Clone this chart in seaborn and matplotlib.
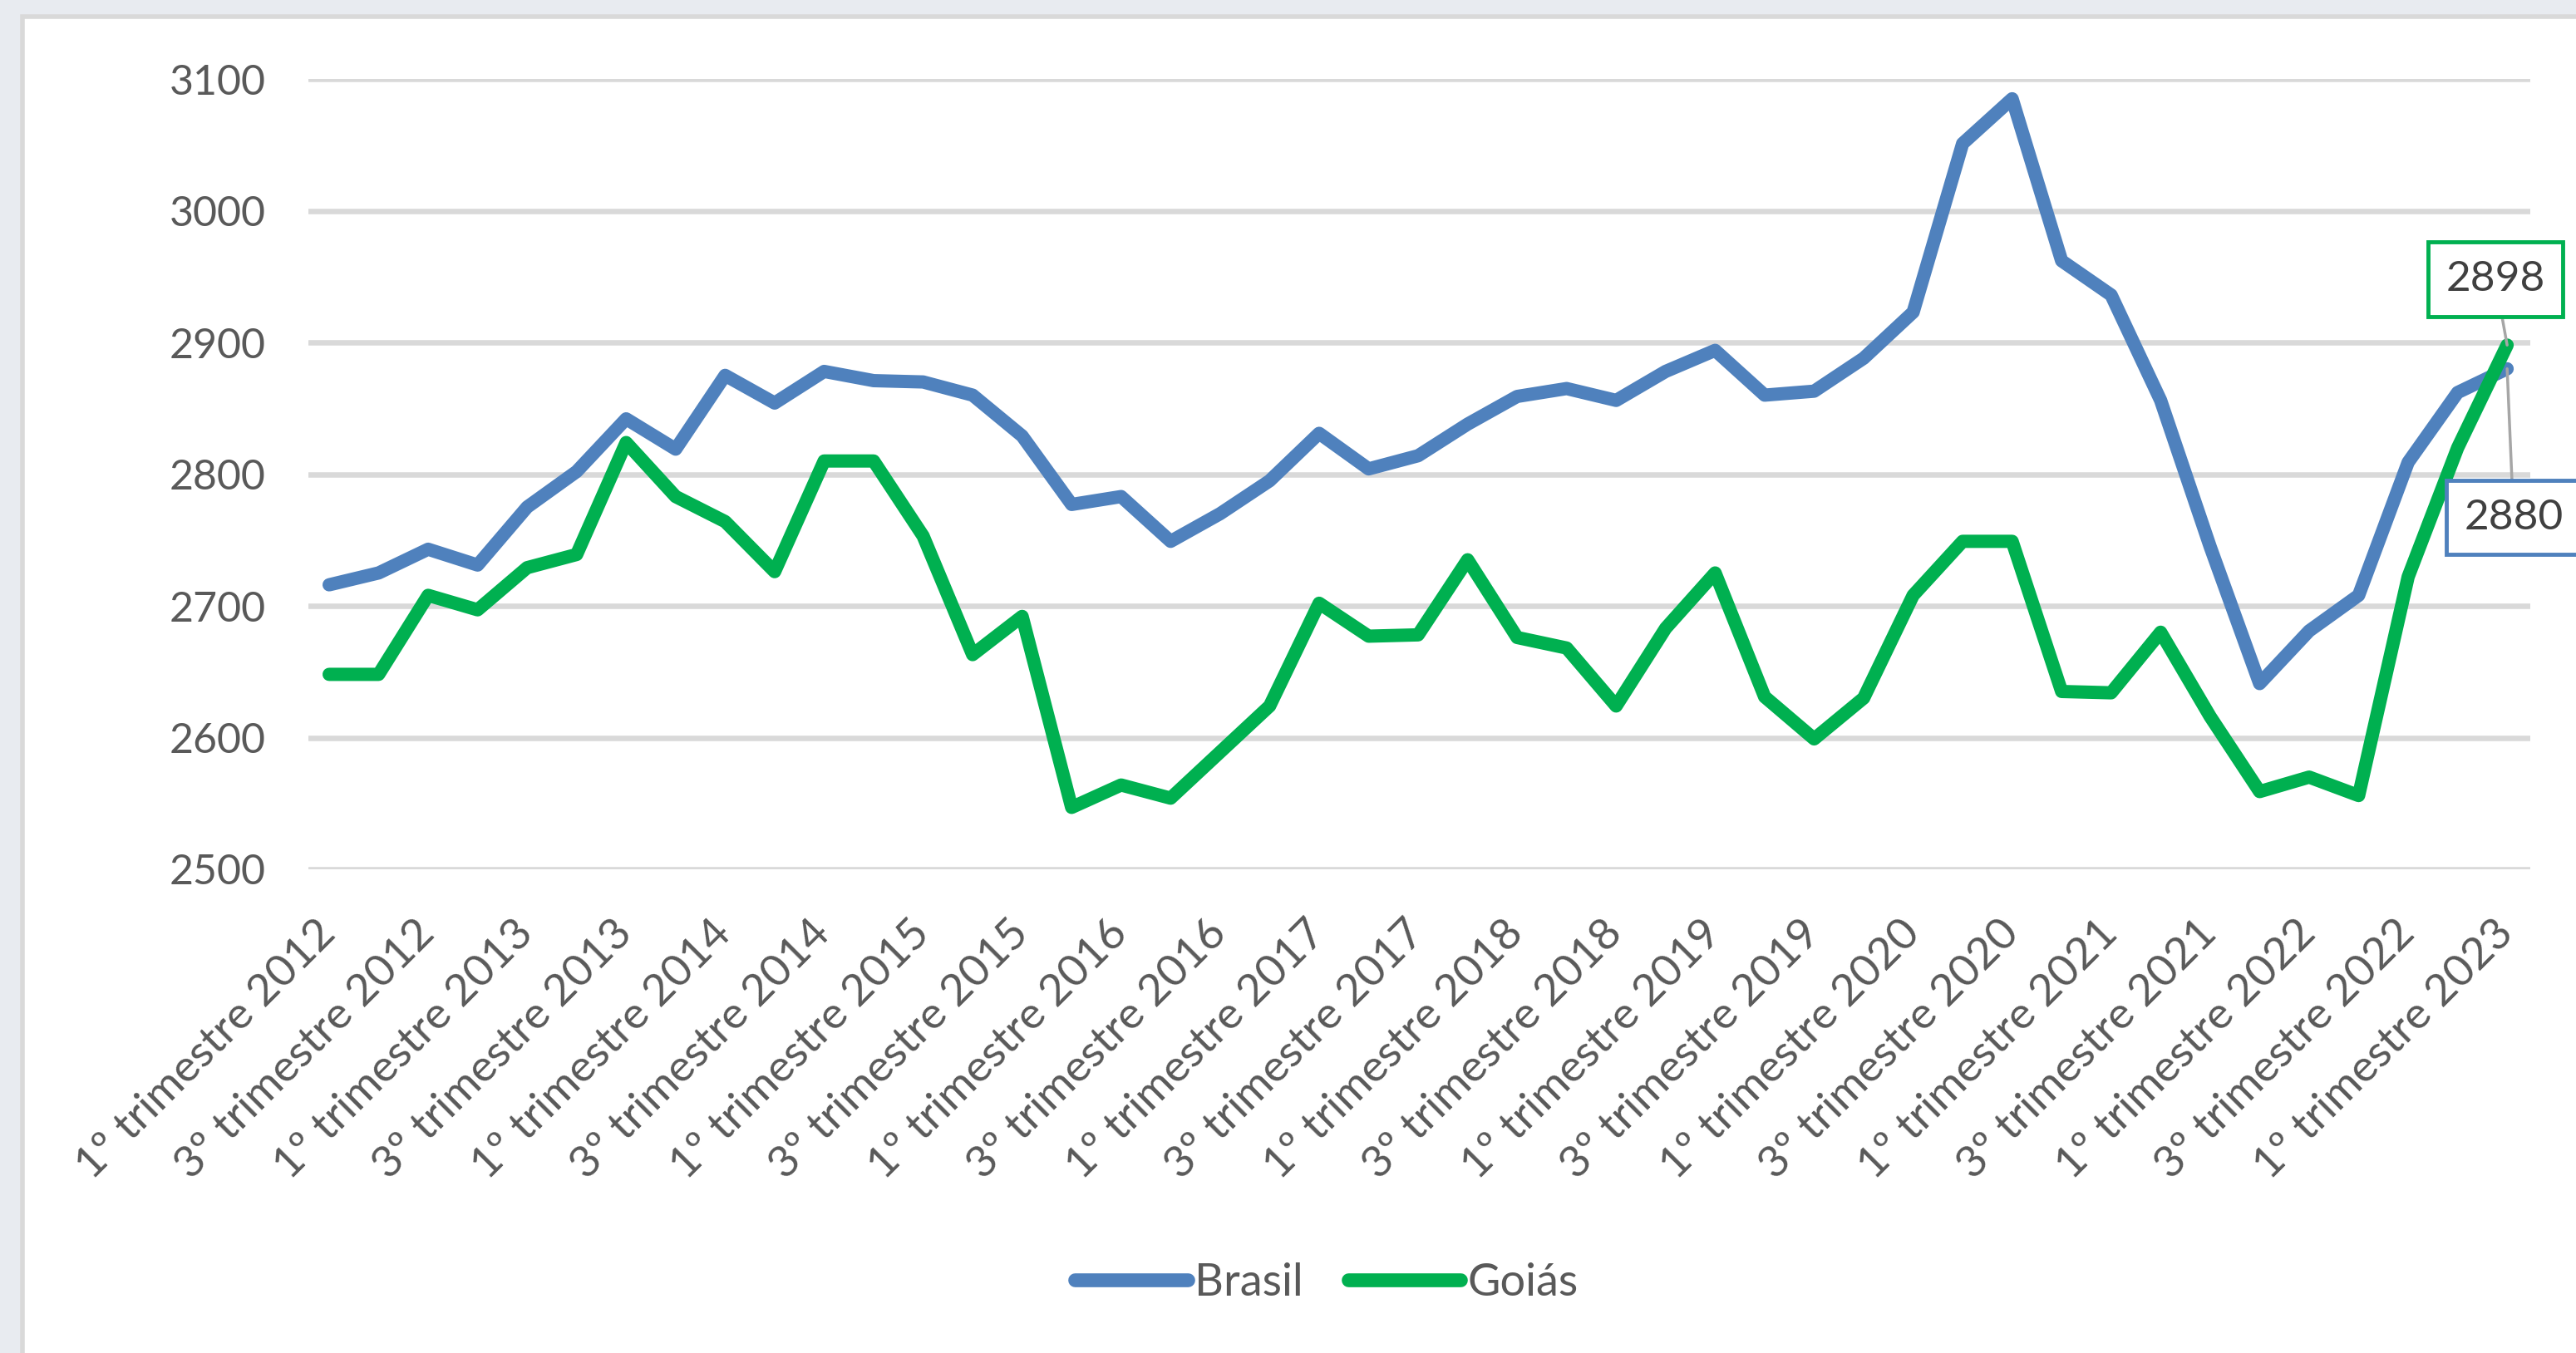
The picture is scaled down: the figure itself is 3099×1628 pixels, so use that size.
import pandas as pd
import matplotlib.pyplot as plt
import matplotlib.patches as mpatches
import seaborn as sns

# quarterly series, 1º trimestre 2012 .. 1º trimestre 2023
quarters = [f"{q}º trimestre {y}" for y in range(2012, 2024) for q in (1, 2, 3, 4)][:45]

brasil = [2716, 2725, 2743, 2731, 2775, 2802, 2842, 2819, 2875, 2854,
          2878, 2871, 2870, 2860, 2829, 2777, 2783, 2749, 2770, 2795,
          2831, 2804, 2814, 2838, 2859, 2865, 2856, 2878, 2894, 2860,
          2863, 2888, 2923, 3051, 3085, 2962, 2936, 2856, 2745, 2641,
          2681, 2708, 2809, 2862, 2880]

goias = [2648, 2648, 2708, 2697, 2729, 2739, 2824, 2783, 2764, 2726,
         2810, 2810, 2753, 2663, 2692, 2547, 2564, 2554, 2589, 2624,
         2702, 2677, 2678, 2735, 2676, 2668, 2624, 2683, 2725, 2631,
         2599, 2630, 2708, 2749, 2749, 2635, 2634, 2680, 2616, 2559,
         2570, 2556, 2722, 2820, 2898]

series_names = ["Brasil", "Goiás"]
colors = {"Brasil": "#4F81BD", "Goiás": "#00B050"}
yticks = [2500, 2600, 2700, 2800, 2900, 3000, 3100]

df = pd.DataFrame({
    "idx": list(range(len(quarters))) * 2,
    "valor": brasil + goias,
    "serie": ["Brasil"] * len(brasil) + ["Goiás"] * len(goias),
})

sns.set_style("white")
plt.rcParams["font.family"] = ["Lato", "DejaVu Sans"]

fig = plt.figure(figsize=(30.99, 16.28), dpi=100, facecolor="#E8EBF0")
# white chart panel with grey border
fig.patches.append(mpatches.Rectangle((27 / 3099, -0.05), 1.1, 1 - 20 / 1628 + 0.05,
                                      transform=fig.transFigure, facecolor="white",
                                      edgecolor="#D9D9D9", linewidth=4, zorder=-5))

ax = fig.add_axes([0.1197, 0.3575, 0.9823 - 0.1197, 0.9416 - 0.3575])
ax.set_facecolor("none")
ax.set_zorder(2)

sns.lineplot(data=df, x="idx", y="valor", hue="serie", hue_order=series_names,
             palette=colors, linewidth=11.5, ax=ax, legend=False, zorder=3)

ax.set_ylim(2500, 3100)
ax.set_xlim(-0.42, 44.47)
ax.set_yticks(yticks)
ax.yaxis.grid(True, color="#D9D9D9", linewidth=4.7)
ax.set_axisbelow(True)
ax.set_xticks(range(0, len(quarters), 2))
ax.set_xticklabels(quarters[::2], rotation=45, ha="right", va="center",
                   rotation_mode="anchor")
ax.tick_params(axis="y", length=0, pad=37, labelsize=36, labelcolor="#595959")
ax.tick_params(axis="x", length=0, pad=50, labelsize=38.5, labelcolor="#595959")
for s in ax.spines.values():
    s.set_visible(False)
ax.set_xlabel("")
ax.set_ylabel("")

# data labels on the last points
last = len(quarters) - 1
ax.annotate(str(goias[-1]), xy=(last, goias[-1]), xytext=(43.76, 2948),
            ha="center", va="center", fontsize=37, color="#404040",
            bbox=dict(boxstyle="square,pad=0.42", fc="white", ec=colors["Goiás"], lw=3.5),
            arrowprops=dict(arrowstyle="-", color="#A6A6A6", lw=2.5, shrinkA=0, shrinkB=0),
            annotation_clip=False, zorder=5)
ax.annotate(str(brasil[-1]), xy=(last, brasil[-1]), xytext=(44.13, 2767),
            ha="center", va="center", fontsize=37, color="#404040",
            bbox=dict(boxstyle="square,pad=0.42", fc="white", ec=colors["Brasil"], lw=3.5),
            arrowprops=dict(arrowstyle="-", color="#A6A6A6", lw=2.5, shrinkA=0, shrinkB=0),
            annotation_clip=False, zorder=5)

handles = [plt.Line2D([], [], color=colors[n], linewidth=12, solid_capstyle="round")
           for n in series_names]
fig.legend(handles, series_names, loc="center", bbox_to_anchor=(0.515, 0.052),
           ncol=2, frameon=False, fontsize=39, labelcolor="#595959",
           handlelength=2.5, handletextpad=0.15, columnspacing=1.0)

fig.savefig("out.png", dpi=100, facecolor=fig.get_facecolor())
